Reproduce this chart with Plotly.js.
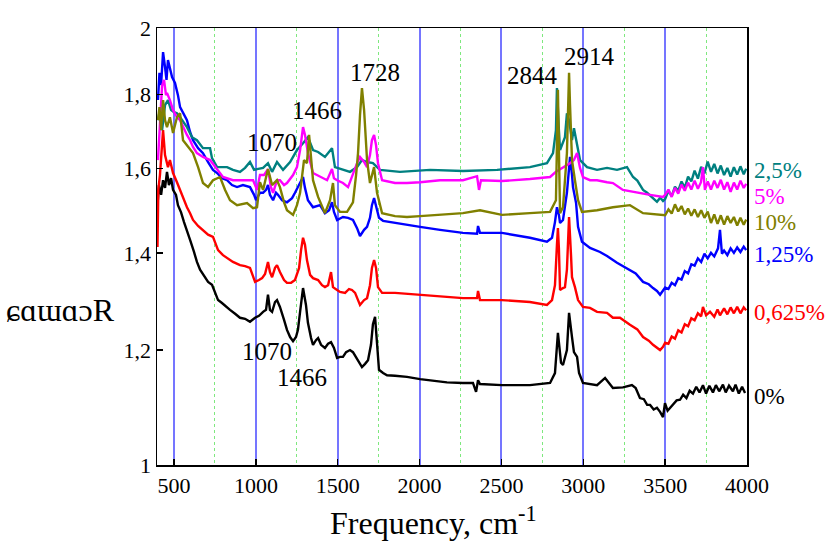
<!DOCTYPE html>
<html>
<head>
<meta charset="utf-8">
<script src="https://cdn.plot.ly/plotly-3.0.1.min.js"></script>
<style>html,body{margin:0;padding:0;background:#fff;}#chart{width:833px;height:550px;}</style>
</head>
<body>
<div id="chart"></div>
<script>
// ---- data ----
const seriesNames = ['0%', '0,625%', '1,25%', '2,5%', '5%', '10%'];

const freq0 = [399,408,421,433,445,457,469,482,494,512,524,543,561,579,598,622,640,659,683,708,732,750,769,793,818,842,873,903,934,964,995,1019,1044,1062,1074,1086,1099,1117,1129,1147,1172,1190,1209,1227,1245,1257,1270,1288,1306,1318,1337,1349,1367,1380,1398,1422,1441,1459,1477,1496,1514,1532,1551,1575,1593,1612,1630,1648,1667,1685,1703,1715,1728,1740,1752,1777,1801,1850,1923,2003,2064,2125,2167,2265,2326,2345,2357,2369,2503,2674,2797,2827,2845,2864,2876,2900,2913,2931,2943,2962,2974,2998,3084,3133,3181,3242,3297,3320,3346,3370,3390,3408,3430,3450,3469,3487,3499,3515,3530,3550,3570,3591,3610,3630,3650,3670,3690,3710,3731,3750,3770,3792,3810,3830,3853,3870,3890,3914,3930,3950,3970,3988];
const refl0 = [1.510,1.559,1.535,1.571,1.552,1.592,1.559,1.576,1.547,1.535,1.510,1.493,1.470,1.447,1.429,1.402,1.380,1.363,1.350,1.337,1.331,1.316,1.299,1.293,1.285,1.279,1.271,1.263,1.261,1.255,1.263,1.267,1.275,1.279,1.310,1.279,1.275,1.295,1.299,1.285,1.259,1.239,1.225,1.217,1.225,1.239,1.275,1.324,1.289,1.253,1.223,1.210,1.219,1.223,1.210,1.204,1.212,1.215,1.204,1.185,1.187,1.187,1.196,1.200,1.196,1.187,1.177,1.168,1.174,1.181,1.210,1.250,1.265,1.219,1.163,1.157,1.153,1.152,1.150,1.146,1.144,1.142,1.140,1.139,1.139,1.123,1.144,1.137,1.135,1.135,1.139,1.157,1.233,1.176,1.172,1.200,1.273,1.225,1.196,1.187,1.157,1.139,1.135,1.148,1.130,1.131,1.135,1.130,1.112,1.110,1.100,1.100,1.092,1.095,1.088,1.079,1.103,1.090,1.095,1.100,1.108,1.109,1.118,1.112,1.125,1.120,1.132,1.122,1.135,1.120,1.134,1.122,1.135,1.124,1.136,1.122,1.134,1.124,1.136,1.120,1.132,1.121];

const freq0625 = [399,404,414,423,433,445,463,475,494,518,537,561,579,598,616,647,677,708,738,769,799,824,860,903,934,964,995,1019,1038,1056,1074,1086,1099,1117,1129,1147,1172,1190,1215,1239,1264,1276,1288,1300,1312,1331,1349,1380,1404,1422,1441,1459,1471,1496,1514,1545,1569,1587,1606,1624,1636,1661,1679,1697,1709,1722,1734,1746,1771,1850,1923,2003,2125,2265,2351,2357,2369,2503,2674,2778,2809,2827,2839,2845,2851,2858,2876,2888,2900,2913,2925,2931,2949,2968,2998,3041,3084,3145,3181,3224,3285,3330,3365,3400,3426,3450,3469,3487,3500,3520,3540,3560,3580,3600,3620,3640,3660,3680,3700,3720,3731,3750,3774,3800,3820,3835,3860,3880,3900,3920,3940,3960,3980,3995];
const refl0625 = [1.413,1.547,1.584,1.648,1.701,1.635,1.604,1.622,1.589,1.566,1.547,1.522,1.505,1.491,1.475,1.461,1.452,1.441,1.436,1.406,1.395,1.388,1.380,1.373,1.371,1.367,1.337,1.341,1.345,1.354,1.380,1.358,1.347,1.367,1.373,1.358,1.341,1.335,1.335,1.341,1.367,1.406,1.434,1.418,1.384,1.352,1.345,1.341,1.330,1.326,1.330,1.358,1.326,1.320,1.316,1.314,1.322,1.320,1.314,1.299,1.289,1.299,1.303,1.330,1.367,1.384,1.367,1.326,1.314,1.314,1.312,1.310,1.306,1.303,1.303,1.318,1.299,1.299,1.295,1.289,1.299,1.330,1.418,1.456,1.410,1.320,1.324,1.326,1.363,1.482,1.395,1.347,1.326,1.299,1.285,1.283,1.275,1.273,1.263,1.263,1.249,1.240,1.225,1.218,1.210,1.205,1.200,1.206,1.214,1.212,1.226,1.222,1.238,1.234,1.250,1.246,1.262,1.258,1.272,1.266,1.285,1.268,1.275,1.265,1.280,1.268,1.282,1.270,1.284,1.272,1.285,1.272,1.284,1.278];

const freq125 = [402,411,421,433,445,454,463,475,488,506,524,537,561,579,598,616,647,677,708,738,763,793,824,854,885,921,964,989,1001,1025,1044,1062,1074,1086,1105,1123,1135,1160,1190,1221,1239,1264,1288,1300,1318,1349,1392,1422,1447,1465,1477,1496,1532,1563,1593,1618,1636,1661,1679,1697,1709,1722,1734,1752,1777,1850,1923,2003,2125,2265,2351,2357,2369,2503,2674,2778,2809,2827,2839,2851,2858,2876,2900,2913,2919,2931,2937,2956,2968,2992,3041,3102,3145,3206,3285,3320,3365,3400,3426,3450,3469,3487,3500,3520,3540,3560,3580,3600,3620,3640,3660,3680,3700,3720,3740,3760,3780,3800,3823,3835,3847,3860,3880,3900,3920,3940,3960,3980,3995];
const refl125 = [1.784,1.863,1.827,1.925,1.880,1.842,1.901,1.871,1.850,1.833,1.798,1.764,1.742,1.728,1.696,1.674,1.653,1.640,1.617,1.597,1.589,1.576,1.571,1.559,1.554,1.559,1.554,1.535,1.522,1.540,1.540,1.547,1.559,1.535,1.522,1.540,1.535,1.522,1.517,1.527,1.540,1.559,1.579,1.552,1.522,1.505,1.510,1.491,1.498,1.517,1.494,1.475,1.482,1.480,1.475,1.456,1.438,1.452,1.459,1.480,1.510,1.527,1.510,1.480,1.473,1.468,1.464,1.459,1.452,1.445,1.443,1.461,1.445,1.445,1.434,1.425,1.434,1.470,1.505,1.487,1.468,1.475,1.540,1.610,1.630,1.584,1.554,1.515,1.459,1.425,1.411,1.402,1.393,1.378,1.363,1.355,1.337,1.332,1.324,1.318,1.310,1.318,1.325,1.322,1.335,1.330,1.345,1.342,1.360,1.355,1.375,1.372,1.388,1.380,1.398,1.388,1.400,1.392,1.410,1.452,1.398,1.405,1.395,1.410,1.400,1.412,1.402,1.414,1.406];

const freq25 = [402,414,427,445,463,482,500,518,537,579,610,640,677,720,732,763,824,860,903,934,964,989,1007,1044,1074,1099,1129,1166,1209,1251,1288,1318,1349,1380,1422,1465,1483,1532,1575,1618,1648,1679,1715,1758,1880,2064,2265,2473,2674,2778,2815,2833,2839,2851,2858,2888,2900,2913,2931,2943,2956,2980,3023,3084,3145,3206,3267,3304,3330,3365,3390,3426,3450,3470,3487,3500,3520,3540,3560,3580,3600,3620,3640,3660,3680,3700,3720,3740,3760,3780,3800,3820,3840,3860,3880,3900,3920,3940,3960,3980,3995];
const refl25 = [1.728,1.756,1.701,1.770,1.784,1.756,1.750,1.747,1.736,1.709,1.682,1.674,1.653,1.653,1.627,1.604,1.604,1.597,1.592,1.602,1.617,1.597,1.599,1.602,1.614,1.592,1.617,1.597,1.617,1.648,1.666,1.682,1.648,1.643,1.630,1.653,1.604,1.597,1.592,1.604,1.622,1.617,1.614,1.597,1.592,1.597,1.594,1.597,1.604,1.614,1.640,1.701,1.818,1.701,1.648,1.682,1.747,1.728,1.674,1.706,1.674,1.622,1.604,1.597,1.602,1.597,1.604,1.579,1.570,1.547,1.540,1.527,1.518,1.528,1.520,1.525,1.545,1.532,1.555,1.545,1.568,1.552,1.580,1.568,1.595,1.575,1.605,1.588,1.618,1.592,1.612,1.588,1.608,1.584,1.602,1.580,1.604,1.585,1.606,1.586,1.600];

const freq5 = [402,408,418,427,439,451,457,475,494,518,537,555,579,598,616,640,677,720,763,799,860,903,946,983,1007,1025,1050,1074,1092,1105,1129,1147,1172,1190,1227,1251,1270,1288,1300,1318,1349,1392,1435,1465,1477,1496,1532,1563,1593,1618,1636,1661,1679,1697,1709,1722,1734,1746,1771,1850,1923,2003,2125,2265,2351,2363,2375,2503,2674,2797,2833,2876,2907,2919,2943,2962,2980,2998,3041,3084,3145,3181,3242,3328,3408,3487,3500,3520,3540,3560,3580,3600,3620,3640,3660,3680,3700,3719,3731,3743,3760,3780,3800,3820,3840,3860,3880,3900,3920,3940,3960,3980,3995];
const refl5 = [1.622,1.674,1.756,1.825,1.842,1.798,1.804,1.784,1.756,1.736,1.728,1.709,1.688,1.674,1.656,1.640,1.630,1.622,1.597,1.579,1.571,1.571,1.571,1.571,1.547,1.584,1.584,1.599,1.554,1.540,1.571,1.571,1.559,1.564,1.584,1.604,1.648,1.709,1.688,1.640,1.589,1.579,1.571,1.599,1.576,1.571,1.564,1.554,1.589,1.614,1.630,1.617,1.604,1.635,1.674,1.688,1.661,1.614,1.571,1.564,1.564,1.566,1.571,1.571,1.581,1.547,1.571,1.569,1.574,1.579,1.592,1.602,1.610,1.614,1.622,1.640,1.602,1.579,1.571,1.571,1.566,1.564,1.547,1.540,1.535,1.530,1.535,1.548,1.530,1.552,1.538,1.560,1.545,1.565,1.548,1.570,1.550,1.566,1.604,1.547,1.568,1.548,1.570,1.552,1.572,1.548,1.566,1.542,1.565,1.548,1.570,1.552,1.562];

const freq10 = [402,411,421,433,445,457,475,494,518,537,555,586,616,647,677,708,738,781,812,842,885,946,983,1007,1025,1044,1074,1099,1129,1147,1172,1190,1227,1251,1270,1294,1312,1325,1337,1349,1380,1422,1453,1471,1483,1514,1557,1593,1612,1624,1636,1648,1661,1667,1679,1697,1722,1740,1771,1850,1923,2003,2125,2265,2369,2503,2674,2797,2833,2839,2845,2851,2858,2876,2900,2907,2913,2919,2931,2949,2968,2992,3084,3181,3285,3365,3451,3500,3520,3540,3560,3580,3600,3620,3640,3660,3680,3700,3720,3740,3760,3780,3800,3820,3840,3860,3880,3900,3920,3940,3960,3980,3995];
const refl10 = [1.728,1.764,1.701,1.784,1.728,1.709,1.736,1.693,1.736,1.747,1.674,1.656,1.640,1.604,1.564,1.554,1.571,1.579,1.547,1.522,1.510,1.515,1.503,1.505,1.566,1.547,1.599,1.559,1.571,1.554,1.517,1.498,1.487,1.510,1.540,1.622,1.614,1.688,1.622,1.571,1.530,1.491,1.522,1.564,1.510,1.494,1.494,1.517,1.584,1.640,1.742,1.818,1.756,1.709,1.622,1.564,1.604,1.540,1.491,1.484,1.482,1.484,1.487,1.491,1.498,1.487,1.491,1.494,1.522,1.648,1.813,1.648,1.491,1.505,1.640,1.756,1.863,1.770,1.622,1.571,1.522,1.494,1.498,1.505,1.510,1.491,1.487,1.486,1.500,1.490,1.512,1.495,1.508,1.488,1.502,1.485,1.500,1.482,1.498,1.480,1.495,1.468,1.488,1.466,1.486,1.464,1.484,1.468,1.482,1.462,1.480,1.464,1.476];

const seriesFreq = [freq0, freq0625, freq125, freq25, freq5, freq10];
const seriesRefl = [refl0, refl0625, refl125, refl25, refl5, refl10];
const seriesColors = ['#000000', '#ff0000', '#0000ff', '#008080', '#ff00ff', '#808000'];

const yTickVals = [1, 1.2, 1.4, 1.6, 1.8, 2];
const yTickText = ['1', '1,2', '1,4', '1,6', '1,8', '2'];

// peak labels: [text, frequency, vertical paper position]
const peakLabels = [
  ['1070', 1099, 0.739], ['1466', 1373, 0.812], ['1728', 1728, 0.899],
  ['2844', 2687, 0.892], ['2914', 3035, 0.934],
  ['1070', 1068, 0.259], ['1466', 1282, 0.201]
];
// series labels at right (same order as seriesNames): paper y
const rightLabelY = [0.156, 0.350, 0.481, 0.675, 0.614, 0.556];

const serif = 'Liberation Serif';

const traces = seriesFreq.map((fx, i) => ({
  x: fx, y: seriesRefl[i], type: 'scatter', mode: 'lines', name: seriesNames[i],
  line: {color: seriesColors[i], width: 2.4}, hoverinfo: 'skip'
}));
// empty trace that carries the secondary (minor-grid) x axis
traces.unshift({x: [], y: [], xaxis: 'x2', yaxis: 'y', type: 'scatter', mode: 'lines', hoverinfo: 'skip'});

const annotations = [];
peakLabels.forEach(p => annotations.push({
  text: p[0], x: p[1], xref: 'x', y: p[2], yref: 'paper', showarrow: false,
  xanchor: 'center', yanchor: 'middle', font: {family: serif, size: 25, color: '#000'}
}));
seriesNames.forEach((n, i) => annotations.push({
  text: n, x: 1.008, xref: 'paper', y: rightLabelY[i], yref: 'paper', showarrow: false,
  xanchor: 'left', yanchor: 'middle', font: {family: serif, size: 23, color: seriesColors[i]}
}));
// y-axis title as drawn in the reference (horizontal, left of the axis)
annotations.push({
  text: 'ɕɑɯɑɔR', x: -0.164, xref: 'paper', y: 0.355, yref: 'paper', showarrow: false,
  xanchor: 'center', yanchor: 'middle', font: {family: serif, size: 32, color: '#000'}
});
// x-axis title
annotations.push({
  text: 'Frequency, cm<sup>-1</sup>', x: 0.468, xref: 'paper', y: -0.128, yref: 'paper', showarrow: false,
  xanchor: 'center', yanchor: 'middle', font: {family: serif, size: 32, color: '#000'}
});

const layout = {
  width: 833, height: 550,
  margin: {l: 157, r: 86, t: 28, b: 85},
  paper_bgcolor: '#fff', plot_bgcolor: '#fff',
  showlegend: false,
  font: {family: serif, color: '#000'},
  xaxis2: {
    overlaying: 'x', range: [396, 4000], tickmode: 'linear', tick0: 750, dtick: 500,
    showgrid: true, gridcolor: '#7ee87e', griddash: 'dot', gridwidth: 1,
    showticklabels: false, ticks: '', showline: false, zeroline: false, side: 'bottom'
  },
  xaxis: {
    range: [396, 4000], tickmode: 'linear', tick0: 500, dtick: 500,
    ticks: 'inside', ticklen: 6, tickwidth: 1.5, tickcolor: '#000',
    showline: true, linecolor: '#000', linewidth: 1.5, mirror: true,
    showgrid: true, gridcolor: '#7575ff', gridwidth: 2, zeroline: false,
    tickfont: {family: serif, size: 22, color: '#000'}
  },
  yaxis: {
    type: 'log', range: [0, Math.log10(2)], tickmode: 'array', tickvals: yTickVals, ticktext: yTickText,
    ticks: 'inside', ticklen: 6, tickwidth: 1.5, tickcolor: '#000',
    showline: true, linecolor: '#000', linewidth: 1.5, mirror: true,
    showgrid: false, zeroline: false,
    tickfont: {family: serif, size: 22, color: '#000'}
  },
  annotations: annotations
};

Plotly.newPlot('chart', traces, layout, {staticPlot: true, displayModeBar: false});
</script>
</body>
</html>
